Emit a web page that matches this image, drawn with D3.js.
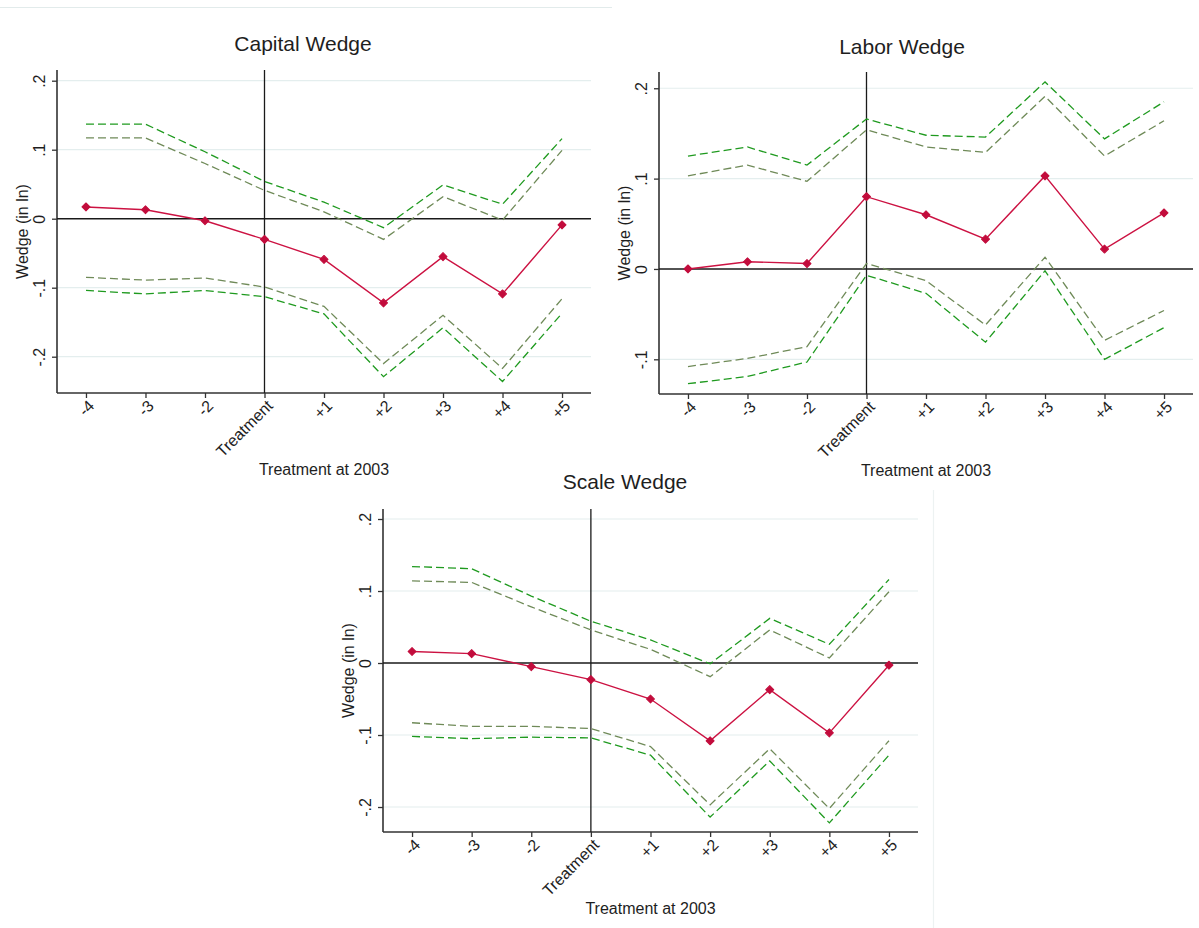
<!DOCTYPE html>
<html>
<head>
<meta charset="utf-8">
<script src="https://cdn.jsdelivr.net/npm/d3@7"></script>
<style>
  html, body { margin: 0; padding: 0; background: #ffffff; }
  svg { display: block; font-family: "Liberation Sans", Arial, sans-serif; }
</style>
</head>
<body>
<svg id="chart" width="1199" height="928"></svg>
<script>
// Event-time categories relative to the 2003 treatment
const categories = ["-4", "-3", "-2", "Treatment", "+1", "+2", "+3", "+4", "+5"];

// Capital wedge: point estimates with 90% and 95% confidence bounds
const capitalEst   = [0.017, 0.013, -0.003, -0.030, -0.059, -0.122, -0.055, -0.109, -0.009];
const capitalHi95  = [0.137, 0.137, 0.097, 0.054, 0.024, -0.013, 0.049, 0.021, 0.116];
const capitalHi90  = [0.117, 0.117, 0.080, 0.041, 0.010, -0.030, 0.032, -0.002, 0.099];
const capitalLo90  = [-0.085, -0.089, -0.086, -0.099, -0.127, -0.210, -0.140, -0.217, -0.116];
const capitalLo95  = [-0.104, -0.109, -0.104, -0.113, -0.138, -0.229, -0.158, -0.236, -0.137];

// Labor wedge
const laborEst   = [0.000, 0.008, 0.006, 0.080, 0.060, 0.033, 0.103, 0.022, 0.062];
const laborHi95  = [0.125, 0.135, 0.115, 0.166, 0.148, 0.146, 0.207, 0.144, 0.185];
const laborHi90  = [0.103, 0.115, 0.097, 0.154, 0.135, 0.129, 0.191, 0.125, 0.164];
const laborLo90  = [-0.108, -0.099, -0.086, 0.006, -0.013, -0.062, 0.013, -0.079, -0.046];
const laborLo95  = [-0.127, -0.119, -0.103, -0.007, -0.027, -0.081, -0.002, -0.100, -0.065];

// Scale wedge
const scaleEst   = [0.016, 0.013, -0.005, -0.023, -0.050, -0.108, -0.037, -0.097, -0.003];
const scaleHi95  = [0.134, 0.131, 0.093, 0.058, 0.032, -0.001, 0.062, 0.026, 0.116];
const scaleHi90  = [0.114, 0.112, 0.078, 0.046, 0.019, -0.019, 0.046, 0.007, 0.099];
const scaleLo90  = [-0.083, -0.088, -0.088, -0.091, -0.116, -0.197, -0.119, -0.202, -0.108];
const scaleLo95  = [-0.102, -0.105, -0.103, -0.104, -0.128, -0.214, -0.136, -0.222, -0.128];

// Y-axis ticks and their printed labels
const yTicksWide   = [-0.2, -0.1, 0, 0.1, 0.2];
const yLabelsWide  = ["-.2", "-.1", "0", ".1", ".2"];
const yTicksLabor  = [-0.1, 0, 0.1, 0.2];
const yLabelsLabor = ["-.1", "0", ".1", ".2"];

const panelTitles = ["Capital Wedge", "Labor Wedge", "Scale Wedge"];
const xAxisTitle = "Treatment at 2003";
const yAxisTitle = "Wedge (in ln)";

// Layout of the three panels (plot-area edges in pixels, value range of the y axis)
const panels = [
  { title: panelTitles[0], est: capitalEst, hi95: capitalHi95, hi90: capitalHi90, lo90: capitalLo90, lo95: capitalLo95,
    ticks: yTicksWide, tickLabels: yLabelsWide,
    left: 57, right: 591, top: 70, bottom: 393, yMin: -0.2526, yMax: 0.2155,
    titleX: 303, titleY: 51, xTitleY: 475 },
  { title: panelTitles[1], est: laborEst, hi95: laborHi95, hi90: laborHi90, lo90: laborLo90, lo95: laborLo95,
    ticks: yTicksLabor, tickLabels: yLabelsLabor,
    left: 659, right: 1193, top: 72, bottom: 394, yMin: -0.1384, yMax: 0.218,
    titleX: 902, titleY: 54, xTitleY: 476 },
  { title: panelTitles[2], est: scaleEst, hi95: scaleHi95, hi90: scaleHi90, lo90: scaleLo90, lo95: scaleLo95,
    ticks: yTicksWide, tickLabels: yLabelsWide,
    left: 383, right: 918, top: 509, bottom: 832, yMin: -0.2347, yMax: 0.2139,
    titleX: 625, titleY: 489, xTitleY: 914 }
];

const COLORS = {
  est: "#cc1242",
  marker: "#c20c3c",
  ci95: "#1f9a1f",
  ci90: "#6f8a58",
  grid: "#e4eeee",
  axis: "#333333",
  ref: "#1a1a1a",
  text: "#1e1e1e"
};

const svg = d3.select("#chart");

// faint frame remnants around the graph regions
svg.append("line").attr("x1", 0).attr("x2", 612).attr("y1", 7.5).attr("y2", 7.5)
  .attr("stroke", "#e2ebeb").attr("stroke-width", 1.2);
svg.append("line").attr("x1", 933.5).attr("x2", 933.5).attr("y1", 490).attr("y2", 928)
  .attr("stroke", "#edf2f2").attr("stroke-width", 1.2);

panels.forEach(p => {
  const g = svg.append("g");
  const x = d3.scalePoint().domain(categories).range([p.left, p.right]).padding(0.487);
  const y = d3.scaleLinear().domain([p.yMin, p.yMax]).range([p.bottom, p.top]);

  // light horizontal gridlines at non-zero ticks
  g.selectAll("line.grid").data(p.ticks.filter(t => t !== 0)).join("line")
    .attr("class", "grid")
    .attr("x1", p.left).attr("x2", p.right)
    .attr("y1", d => y(d)).attr("y2", d => y(d))
    .attr("stroke", COLORS.grid).attr("stroke-width", 1.2);

  // y axis with rotated tick labels
  const yAxis = d3.axisLeft(y).tickValues(p.ticks).tickSize(5)
    .tickFormat((d, i) => p.tickLabels[i]);
  const ya = g.append("g").attr("transform", `translate(${p.left},0)`).call(yAxis);
  ya.select(".domain").remove();
  ya.selectAll(".tick line").attr("stroke", COLORS.axis).attr("stroke-width", 1.3);
  ya.selectAll(".tick text")
    .attr("x", null).attr("dy", null)
    .attr("font-size", 16).attr("fill", COLORS.text)
    .attr("text-anchor", "middle")
    .attr("dominant-baseline", "central")
    .attr("transform", "translate(-17.5,0) rotate(-90)");

  // x axis with diagonal category labels
  const xAxis = d3.axisBottom(x).tickSize(5);
  const xa = g.append("g").attr("transform", `translate(0,${p.bottom})`).call(xAxis);
  xa.select(".domain").remove();
  xa.selectAll(".tick line").attr("stroke", COLORS.axis).attr("stroke-width", 1.3);
  xa.selectAll(".tick text")
    .attr("y", null).attr("dy", null)
    .attr("font-size", 16).attr("fill", COLORS.text)
    .attr("text-anchor", "end")
    .attr("dominant-baseline", "central")
    .attr("transform", "translate(5,10) rotate(-45)");

  // axis lines
  g.append("line").attr("x1", p.left).attr("x2", p.left).attr("y1", p.top).attr("y2", p.bottom)
    .attr("stroke", COLORS.axis).attr("stroke-width", 1.6);
  g.append("line").attr("x1", p.left).attr("x2", p.right).attr("y1", p.bottom).attr("y2", p.bottom)
    .attr("stroke", COLORS.axis).attr("stroke-width", 1.6);

  // reference lines: zero and the treatment year
  g.append("line").attr("x1", p.left).attr("x2", p.right).attr("y1", y(0)).attr("y2", y(0))
    .attr("stroke", COLORS.ref).attr("stroke-width", 1.5);
  g.append("line").attr("x1", x("Treatment")).attr("x2", x("Treatment"))
    .attr("y1", p.top).attr("y2", p.bottom)
    .attr("stroke", COLORS.ref).attr("stroke-width", 1.3);

  const line = d3.line().x((d, i) => x(categories[i])).y(d => y(d));

  // confidence bounds
  [[p.hi95, COLORS.ci95], [p.lo95, COLORS.ci95], [p.hi90, COLORS.ci90], [p.lo90, COLORS.ci90]]
    .forEach(([vals, col]) => {
      g.append("path").datum(vals).attr("d", line)
        .attr("fill", "none").attr("stroke", col).attr("stroke-width", 1.3)
        .attr("stroke-dasharray", "8,4");
    });

  // point estimates with small square-diamond markers
  g.append("path").datum(p.est).attr("d", line)
    .attr("fill", "none").attr("stroke", COLORS.est).attr("stroke-width", 1.4);
  const marker = d3.symbol().type(d3.symbolSquare).size(32);
  g.selectAll("path.pt").data(p.est).join("path")
    .attr("class", "pt")
    .attr("d", marker)
    .attr("transform", (d, i) => `translate(${x(categories[i])},${y(d)}) rotate(45)`)
    .attr("fill", COLORS.marker)
    .attr("stroke", COLORS.marker).attr("stroke-width", 1).attr("stroke-linejoin", "round");

  // titles
  g.append("text").attr("x", p.titleX).attr("y", p.titleY)
    .attr("text-anchor", "middle").attr("font-size", 21).attr("fill", COLORS.text)
    .text(p.title);
  g.append("text").attr("x", (p.left + p.right) / 2).attr("y", p.xTitleY)
    .attr("text-anchor", "middle").attr("font-size", 16).attr("fill", COLORS.text)
    .text(xAxisTitle);
  g.append("text")
    .attr("transform", `translate(${p.left - 35},${(p.top + p.bottom) / 2}) rotate(-90)`)
    .attr("text-anchor", "middle").attr("dominant-baseline", "central")
    .attr("font-size", 16).attr("fill", COLORS.text)
    .text(yAxisTitle);
});
</script>
</body>
</html>
